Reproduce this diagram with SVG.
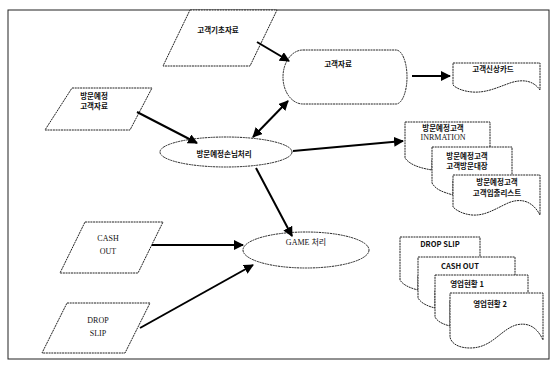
<svg xmlns="http://www.w3.org/2000/svg" width="559" height="369" viewBox="0 0 559 369">
<defs>
<marker id="ah" viewBox="0 0 10 10" refX="9" refY="5" markerWidth="5" markerHeight="5" orient="auto-start-reverse" markerUnits="strokeWidth">
<path d="M0,0 L10,5 L0,10 Z" fill="#000"/>
</marker>
</defs>
<style>
.s{fill:#fff;stroke:#222;stroke-width:1;stroke-dasharray:2 0.7}
.c{stroke:#000;stroke-width:2;fill:none;marker-end:url(#ah)}
.k{font-family:"Noto Sans CJK KR","Liberation Sans",sans-serif;font-size:7.5px;font-weight:bold;fill:#111;text-anchor:middle;dominant-baseline:central}
.l{font-family:"Liberation Serif","Noto Sans CJK KR",serif;font-size:8px;fill:#111;text-anchor:middle;dominant-baseline:central}
</style>
<rect width="559" height="369" fill="#fff"/>
<rect x="8" y="10" width="541" height="349" fill="none" stroke="#222" stroke-width="1"/>
<g id="n-basic">
<polygon class="s" points="190,10 277,10 250,66 163,66"/>
<text class="k" x="218" y="29">고객기초자료</text>
</g>
<g id="n-custdb">
<path class="s" d="M303,50 H396 A11,27 0 0 1 396,104 H303 A20,27 0 0 1 303,50 Z"/>
<text class="k" x="338" y="63">고객자료</text>
</g>
<g id="n-card">
<path class="s" d="M453,63 H540 V90 C533,80 522,79 510,83 C496,88 486,93 472,92 C462,91 456,88 453,85 Z"/>
<text class="k" x="493" y="68">고객신상카드</text>
</g>
<g id="n-visitdata">
<polygon class="s" points="72,88 152,88 130,130 45,130"/>
<text class="k" x="94" y="95">방문예정</text>
<text class="k" x="94" y="105">고객자료</text>
</g>
<g id="n-visitproc">
<ellipse class="s" cx="226" cy="152" rx="66" ry="15"/>
<text class="k" x="224" y="153">방문예정손님처리</text>
</g>
<g id="n-docs1">
<path class="s" d="M405,122 H490 V160 H432 V170 C420,168 410,165 405,158 Z"/>
<text class="k" x="443" y="127">방문예정고객</text>
<text class="l" x="443" y="137">INRMATION</text>
<path class="s" d="M432,147 H512 V180 H453 V195 C443,192 436,190 432,183 Z"/>
<text class="k" x="467" y="155">방문예정고객</text>
<text class="k" x="467" y="165">고객방문대장</text>
<path class="s" d="M453,175 H540 V215 C532,200 520,198 508,203 C495,209 485,216 472,215 C462,214 456,210 453,207 Z"/>
<text class="k" x="497" y="181">방문예정고객</text>
<text class="k" x="497" y="192">고객입출리스트</text>
</g>
<g id="n-game">
<ellipse class="s" cx="306" cy="250" rx="63" ry="18"/>
<text class="l" x="306" y="242">GAME 처리</text>
</g>
<g id="n-cashout">
<polygon class="s" points="85,222 163,222 138,273 60,273"/>
<text class="l" x="108" y="238">CASH</text>
<text class="l" x="108" y="251">OUT</text>
</g>
<g id="n-dropslip">
<polygon class="s" points="67,303 150,303 125,353 42,353"/>
<text class="l" x="98" y="320">DROP</text>
<text class="l" x="98" y="333">SLIP</text>
</g>
<g id="n-docs2">
<path class="s" d="M400,237 H480 V275 H418 V290 C410,288 403,285 400,280 Z"/>
<text class="k" x="440" y="243">DROP SLIP</text>
<path class="s" d="M418,257 H515 V290 H435 V308 C427,306 421,303 418,298 Z"/>
<text class="k" x="460" y="265">CASH OUT</text>
<path class="s" d="M435,275 H528 V300 H450 V326 C442,324 437,321 435,317 Z"/>
<text class="k" x="467" y="283">영업현황 1</text>
<path class="s" d="M450,293 H543 V340 C537,327 528,322 516,325 C500,330 492,348 470,348 C458,348 451,343 450,337 Z"/>
<text class="k" x="490" y="303">영업현황 2</text>
</g>
<g id="connectors">
<line class="c" x1="257" y1="42" x2="289" y2="61"/>
<line class="c" x1="412" y1="76" x2="450" y2="76"/>
<line class="c" x1="137" y1="112" x2="197" y2="143"/>
<line class="c" x1="253" y1="137" x2="288" y2="101" style="marker-start:url(#ah)"/>
<line class="c" x1="293" y1="151" x2="403" y2="141"/>
<line class="c" x1="256" y1="168" x2="292" y2="236"/>
<line class="c" x1="152" y1="245" x2="243" y2="245"/>
<line class="c" x1="140" y1="328" x2="253" y2="265"/>
</g>
</svg>
